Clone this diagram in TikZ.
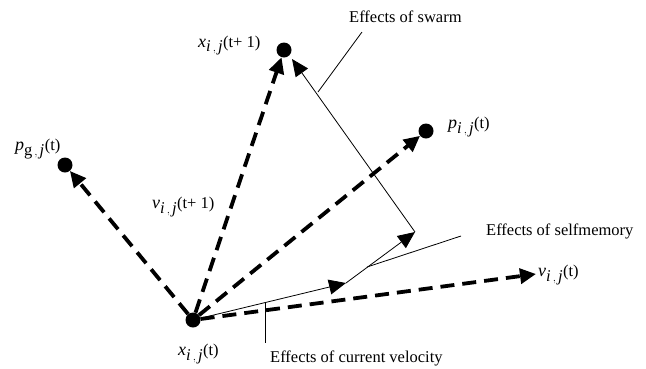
\documentclass[tikz,border=0pt]{standalone}
\usepackage{fontspec}
\setmainfont{Liberation Serif}
\usetikzlibrary{arrows.meta}
\newcommand{\vlet}[1]{{\fontsize{18bp}{19bp}\selectfont\textit{#1}}}
\tikzset{
  dot/.style={circle,fill=black,inner sep=0pt,minimum size=15bp},
  dasharrow/.style={line width=3.8bp,dash pattern=on 14bp off 8bp,-{Triangle[length=16bp,width=15bp]}},
  thinarrow/.style={line width=0.8bp,-{Triangle[length=17bp,width=15bp]}},
  leader/.style={line width=0.8bp},
  lbl/.style={inner sep=0pt,anchor=base west,font=\fontsize{16.5bp}{19bp}\selectfont}
}
\begin{document}
\begin{tikzpicture}[x=1bp,y=-1bp]
\useasboundingbox (0,0) rectangle (646,368);
% dots
\node[dot] (o) at (193,320) {};
\node[dot] (xn) at (284,50) {};
\node[dot] (pg) at (65,165) {};
\node[dot] (pi) at (426,131) {};
\coordinate (vt) at (536,274);
% solid path points
\coordinate (A) at (346,283);
\coordinate (B) at (415,232);
\coordinate (C) at (292,59);
% dashed arrows
\draw[dasharrow] (o) -- (xn);
\draw[dasharrow] (o) -- (pg);
\draw[dasharrow] (o) -- (pi);
\draw[dasharrow] (o) -- (vt);
% solid vectors
\draw[thinarrow] (o.center) -- (A);
\draw[thinarrow] (A) -- (B);
\draw[thinarrow] (B) -- (C);
% leader lines
\coordinate (ls1) at (318,92);
\coordinate (ls2) at (362,32);
\coordinate (lm1) at (367,267);
\coordinate (lm2) at (461,236);
\coordinate (lc1) at (265,303);
\coordinate (lc2) at (265,343);
\draw[leader] (ls1) -- (ls2);
\draw[leader] (lm1) -- (lm2);
\draw[leader] (lc1) -- (lc2);
% labels
\node[lbl] (lxn) at (198,47) {\vlet{x}$_{\textit{i}\,,\,\textit{j}}$(t+ 1)};
\node[lbl] (lpg) at (15,150) {\vlet{p}$_{\textrm{g}\,,\,\textit{j}}$(t)};
\node[lbl] (lvn) at (152,208) {\vlet{v}$_{\textit{i}\,,\,\textit{j}}$(t+ 1)};
\node[lbl] (lpi) at (448,128) {\vlet{p}$_{\textit{i}\,,\,\textit{j}}$(t)};
\node[lbl] (lvt) at (538,276) {\vlet{v}$_{\textit{i}\,,\,\textit{j}}$(t)};
\node[lbl] (lo) at (178,355) {\vlet{x}$_{\textit{i}\,,\,\textit{j}}$(t)};
\node[lbl] (es) at (349,22) {Effects of swarm};
\node[lbl] (em) at (486,235) {Effects of selfmemory};
\node[lbl] (ec) at (270,362) {Effects of current velocity};
\end{tikzpicture}
\end{document}
